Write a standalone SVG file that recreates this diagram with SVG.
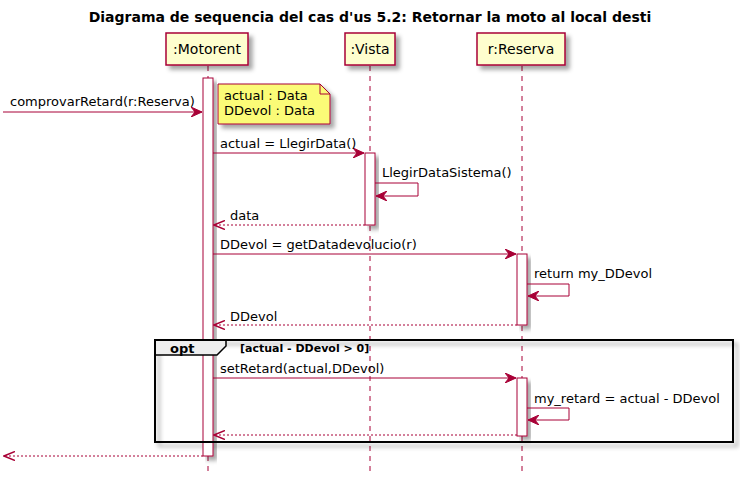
<svg xmlns="http://www.w3.org/2000/svg" width="740" height="485" viewBox="0 0 740 485">
<style>
text{font-family:"DejaVu Sans",sans-serif;fill:#000}
.msg{font-size:13px}
.part{font-size:14px;text-anchor:middle}
.ll{stroke:#A80036;stroke-width:1;stroke-dasharray:5,5;fill:none}
.box{fill:#FEFECE;stroke:#A80036;stroke-width:1.5;filter:url(#sh)}
.act{fill:#FFFFFF;stroke:#A80036;stroke-width:1;filter:url(#sh)}
.line{stroke:#A80036;stroke-width:1;fill:none}
.dash{stroke:#A80036;stroke-width:1;fill:none;stroke-dasharray:2,2}
</style>
<defs>
<filter id="sh" x="-20%" y="-20%" width="160%" height="160%">
<feGaussianBlur in="SourceAlpha" stdDeviation="2"/>
<feOffset dx="4" dy="4" result="b"/>
<feFlood flood-color="#000" flood-opacity="0.35"/>
<feComposite in2="b" operator="in"/>
<feMerge><feMergeNode/><feMergeNode in="SourceGraphic"/></feMerge>
</filter>
<marker id="af" viewBox="0 0 12 10" refX="11" refY="5" markerWidth="12" markerHeight="10" markerUnits="userSpaceOnUse" orient="auto">
<path d="M0,0 L11,5 L0,10 L4,5 Z" fill="#A80036" stroke="#A80036" stroke-width="1"/>
</marker>
<marker id="ao" viewBox="0 0 12 10" refX="11" refY="5" markerWidth="12" markerHeight="10" markerUnits="userSpaceOnUse" orient="auto">
<path d="M0,0.5 L11,5 L0,9.5" fill="none" stroke="#A80036" stroke-width="1.5"/>
</marker>
</defs>
<rect width="740" height="485" fill="#FFFFFF"/>
<text x="370" y="22" style="font-size:14px;font-weight:bold;text-anchor:middle">Diagrama de sequencia del cas d'us 5.2: Retornar la moto al local desti</text>

<g id="lifelines">
<line class="ll" x1="208" y1="66" x2="208" y2="476"/>
<line class="ll" x1="370" y1="66" x2="370" y2="476"/>
<line class="ll" x1="522" y1="66" x2="522" y2="476"/>
</g>

<g id="p-motorent">
<rect class="box" x="166" y="33" width="82" height="32"/>
<text class="part" x="207" y="54">:Motorent</text>
</g>
<g id="p-vista">
<rect class="box" x="345" y="33" width="50" height="32"/>
<text class="part" x="370" y="54">:Vista</text>
</g>
<g id="p-reserva">
<rect class="box" x="477" y="33" width="88" height="32"/>
<text class="part" x="521" y="54">r:Reserva</text>
</g>

<g id="opt-frame-shadow">
<rect x="155" y="340" width="578" height="102" fill="none" stroke="#000" stroke-width="2" filter="url(#sh)"/>
</g>

<g id="activations">
<rect class="act" x="203" y="78" width="10" height="378"/>
<rect class="act" x="365" y="153" width="10" height="72"/>
<rect class="act" x="517" y="254" width="10" height="71"/>
<rect class="act" x="517" y="378" width="10" height="58"/>
</g>

<g id="opt-frame">
<path d="M155,340 L226,340 L226,346 L217,355 L155,355 Z" fill="#EEEEEE" stroke="#000" stroke-width="1.5"/>
<rect x="155" y="340" width="578" height="102" fill="none" stroke="#000" stroke-width="2"/>
<text x="170" y="353" style="font-size:13px;font-weight:bold">opt</text>
<text x="240" y="352" style="font-size:11px;font-weight:bold">[actual - DDevol &gt; 0]</text>
</g>

<g id="note">
<path d="M218,84 L320,84 L330,94 L330,124 L218,124 Z" fill="#FBFB77" stroke="#A80036" stroke-width="1" filter="url(#sh)"/>
<path d="M320,84 L320,94 L330,94" fill="none" stroke="#A80036" stroke-width="1"/>
<text class="msg" x="224" y="100">actual : Data</text>
<text class="msg" x="224" y="115">DDevol : Data</text>
</g>

<g id="connectors">
<line class="line" x1="3" y1="112" x2="202" y2="112" marker-end="url(#af)"/>
<text class="msg" x="10" y="106">comprovarRetard(r:Reserva)</text>

<line class="line" x1="213" y1="153" x2="364" y2="153" marker-end="url(#af)"/>
<text class="msg" x="220" y="148">actual = LlegirData()</text>

<path class="line" d="M375,183 L418,183 L418,196 L376,196" marker-end="url(#af)"/>
<text class="msg" x="382" y="177">LlegirDataSistema()</text>

<line class="dash" x1="365" y1="225" x2="214" y2="225" marker-end="url(#ao)"/>
<text class="msg" x="230" y="220">data</text>

<line class="line" x1="213" y1="254" x2="516" y2="254" marker-end="url(#af)"/>
<text class="msg" x="220" y="249">DDevol = getDatadevolucio(r)</text>

<path class="line" d="M527,284 L569,284 L569,296 L528,296" marker-end="url(#af)"/>
<text class="msg" x="534" y="278">return my_DDevol</text>

<line class="dash" x1="517" y1="325" x2="214" y2="325" marker-end="url(#ao)"/>
<text class="msg" x="230" y="321">DDevol</text>

<line class="line" x1="213" y1="378" x2="516" y2="378" marker-end="url(#af)"/>
<text class="msg" x="220" y="373">setRetard(actual,DDevol)</text>

<path class="line" d="M527,408 L569,408 L569,420 L528,420" marker-end="url(#af)"/>
<text class="msg" x="534" y="403">my_retard = actual - DDevol</text>

<line class="dash" x1="517" y1="435" x2="214" y2="435" marker-end="url(#ao)"/>

<line class="dash" x1="203" y1="456" x2="4" y2="456" marker-end="url(#ao)"/>
</g>
</svg>
